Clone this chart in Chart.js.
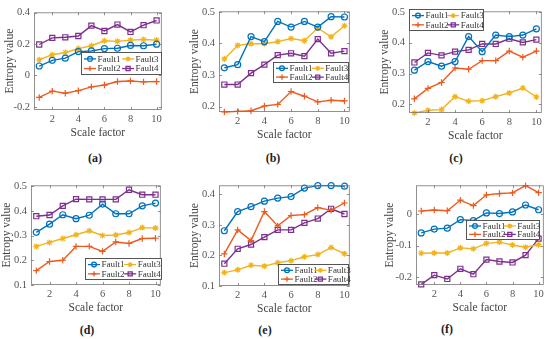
<!DOCTYPE html>
<html>
<head>
<meta charset="utf-8">
<script src="https://cdn.jsdelivr.net/npm/chart.js@4/dist/chart.umd.min.js"></script>
<style>
  body { margin: 0; background: #fff; width: 550px; height: 339px; position: relative; overflow: hidden; }
  canvas { position: absolute; }
  .cap { position: absolute; font: bold 12px 'Liberation Serif', serif; color: #222; transform: translateX(-50%); }
</style>
</head>
<body>
<script>
const scaleFactor = [1, 2, 3, 4, 5, 6, 7, 8, 9, 10];
const faultNames = ['Fault1', 'Fault2', 'Fault3', 'Fault4'];
const xTicks = [2, 4, 6, 8, 10];

// (a)
const a1 = [0.06, 0.096, 0.11, 0.152, 0.156, 0.171, 0.173, 0.191, 0.189, 0.199];
const a2 = [-0.14, -0.1, -0.113, -0.097, -0.073, -0.061, -0.039, -0.035, -0.041, -0.039];
const a3 = [0.1, 0.132, 0.146, 0.171, 0.189, 0.221, 0.217, 0.225, 0.229, 0.225];
const a4 = [0.197, 0.239, 0.243, 0.251, 0.317, 0.283, 0.324, 0.277, 0.32, 0.35];
const aTicks = [-0.2, 0, 0.2, 0.4];

// (b)
const b1 = [0.323, 0.333, 0.422, 0.406, 0.47, 0.452, 0.47, 0.452, 0.485, 0.484];
const b2 = [0.183, 0.185, 0.187, 0.202, 0.207, 0.248, 0.233, 0.215, 0.22, 0.218];
const b3 = [0.351, 0.394, 0.399, 0.399, 0.406, 0.416, 0.409, 0.449, 0.421, 0.456];
const b4 = [0.27, 0.27, 0.306, 0.333, 0.363, 0.369, 0.36, 0.414, 0.369, 0.376];
const bTicks = [0.2, 0.3, 0.4, 0.5];

// (c)
const c1 = [0.311, 0.339, 0.324, 0.339, 0.42, 0.371, 0.425, 0.42, 0.425, 0.445];
const c2 = [0.218, 0.252, 0.271, 0.318, 0.314, 0.342, 0.342, 0.373, 0.353, 0.373];
const c3 = [0.172, 0.181, 0.183, 0.225, 0.21, 0.212, 0.225, 0.237, 0.253, 0.224];
const c4 = [0.336, 0.367, 0.359, 0.371, 0.377, 0.396, 0.396, 0.413, 0.401, 0.41];
const cTicks = [0.2, 0.3, 0.4, 0.5];

// (d)
const d1 = [0.313, 0.346, 0.384, 0.368, 0.382, 0.427, 0.388, 0.388, 0.42, 0.431];
const d2 = [0.158, 0.195, 0.2, 0.256, 0.256, 0.236, 0.274, 0.268, 0.288, 0.289];
const d3 = [0.256, 0.272, 0.288, 0.303, 0.319, 0.3, 0.302, 0.312, 0.332, 0.33];
const d4 = [0.378, 0.383, 0.42, 0.447, 0.446, 0.446, 0.446, 0.485, 0.465, 0.465];
const dTicks = [0.1, 0.2, 0.3, 0.4, 0.5];

// (e)
const e1 = [0.281, 0.344, 0.36, 0.378, 0.388, 0.393, 0.421, 0.429, 0.429, 0.427];
const e2 = [0.205, 0.284, 0.249, 0.344, 0.297, 0.331, 0.334, 0.357, 0.348, 0.372];
const e3 = [0.144, 0.153, 0.168, 0.165, 0.176, 0.183, 0.196, 0.203, 0.226, 0.206];
const e4 = [0.173, 0.222, 0.236, 0.26, 0.284, 0.284, 0.307, 0.321, 0.353, 0.336];
const eTicks = [0.1, 0.2, 0.3, 0.4];

// (f)
const f1 = [-0.06, -0.048, -0.045, -0.018, -0.021, 0.003, 0.001, 0.006, 0.028, 0.013];
const f2 = [0.009, 0.012, 0.01, 0.043, 0.026, 0.06, 0.064, 0.066, 0.089, 0.067];
const f3 = [-0.124, -0.123, -0.123, -0.107, -0.11, -0.093, -0.089, -0.098, -0.105, -0.097];
const f4 = [-0.222, -0.193, -0.205, -0.173, -0.19, -0.144, -0.15, -0.153, -0.13, -0.078];
const fTicks = [-0.2, -0.1, 0];

const colors = ['#0072BD', '#EE5A1E', '#F2B31C', '#7E2F8E'];
const markers = ['circle', 'cross', 'star', 'rect'];
const markerSize = [3, 3.2, 3, 3.6];
const serif = "'Liberation Serif', serif";

// plot box, y-title centre, y range and legend box are in page pixels
const panels = [
  { cap: '(a)', capX: 95, capY: 151, series: [a1, a2, a3, a4], ticks: aTicks, plot: [34, 8, 163, 110], titleX: 10, y: [-0.22, 0.402], legend: [81, 52, 81, 23] },
  { cap: '(b)', capX: 273, capY: 151, series: [b1, b2, b3, b4], ticks: bTicks, plot: [219, 7, 351, 112], titleX: 195, y: [0.183, 0.502], legend: [273, 62, 76, 21] },
  { cap: '(c)', capX: 456, capY: 151, series: [c1, c2, c3, c4], ticks: cTicks, plot: [409, 7, 543, 113], titleX: 385, y: [0.172, 0.502], legend: [409, 9, 75, 22] },
  { cap: '(d)', capX: 87, capY: 323, series: [d1, d2, d3, d4], ticks: dTicks, plot: [31, 181, 162, 285], titleX: 7, y: [0.1, 0.503], legend: [85, 258, 77, 22] },
  { cap: '(e)', capX: 265, capY: 323, series: [e1, e2, e3, e4], ticks: eTicks, plot: [219, 181, 351, 286], titleX: 195, y: [0.1, 0.43], legend: [278, 264, 71, 21] },
  { cap: '(f)', capX: 447, capY: 322, series: [f1, f2, f3, f4], ticks: fTicks, plot: [416, 181, 545, 285], titleX: 390, y: [-0.224, 0.09], legend: [466, 220, 74, 20] },
];

// axes box, inward ticks and the boxed two-column legend
const frame = {
  id: 'frame',
  afterDatasetsDraw(chart, args, opts) {
    const { ctx, chartArea: a, scales } = chart;
    ctx.save();
    ctx.strokeStyle = '#777';
    ctx.lineWidth = 0.8;
    ctx.strokeRect(a.left + 0.5, a.top + 0.5, a.width - 1, a.height - 1);
    ctx.beginPath();
    scales.x.ticks.forEach((t) => {
      const px = Math.round(scales.x.getPixelForValue(t.value)) + 0.5;
      ctx.moveTo(px, a.bottom); ctx.lineTo(px, a.bottom - 3);
      ctx.moveTo(px, a.top); ctx.lineTo(px, a.top + 3);
    });
    scales.y.ticks.forEach((t) => {
      const py = Math.round(scales.y.getPixelForValue(t.value)) + 0.5;
      ctx.moveTo(a.left, py); ctx.lineTo(a.left + 3, py);
      ctx.moveTo(a.right, py); ctx.lineTo(a.right - 3, py);
    });
    ctx.stroke();

    const [lx, ly, lw, lh] = opts.box;
    ctx.fillStyle = '#fff';
    ctx.fillRect(lx, ly, lw, lh);
    ctx.strokeStyle = '#444';
    ctx.lineWidth = 0.9;
    ctx.strokeRect(lx + 0.5, ly + 0.5, lw - 1, lh - 1);
    ctx.font = `9px ${serif}`;
    ctx.textBaseline = 'middle';
    [0, 2, 1, 3].forEach((idx, k) => {
      const col = k % 2;
      const row = Math.floor(k / 2);
      const x0 = lx + 3 + col * lw * 0.47;
      const yc = ly + lh * (row === 0 ? 0.3 : 0.72);
      ctx.strokeStyle = colors[idx];
      ctx.lineWidth = 1.3;
      ctx.beginPath();
      ctx.moveTo(x0, yc); ctx.lineTo(x0 + 12, yc);
      ctx.stroke();
      ctx.fillStyle = 'rgba(0,0,0,0)';
      Chart.helpers.drawPoint(ctx, { pointStyle: markers[idx], radius: markerSize[idx] * 0.8, rotation: 0, borderWidth: 1.1 }, x0 + 6, yc);
      ctx.fillStyle = '#333';
      ctx.fillText(faultNames[idx], x0 + 13.5, yc + 0.5);
    });
    ctx.restore();
  },
};

panels.forEach((p) => {
  const [pl, pt, pr, pb] = p.plot;
  const left = p.titleX - 7;
  const top = pt - 6;
  const width = pr + 4 - left;
  const height = pb + 30 - top;
  const canvas = document.createElement('canvas');
  canvas.width = width;
  canvas.height = height;
  canvas.style.left = left + 'px';
  canvas.style.top = top + 'px';
  canvas.style.width = width + 'px';
  canvas.style.height = height + 'px';
  document.body.appendChild(canvas);

  const cap = document.createElement('div');
  cap.className = 'cap';
  cap.textContent = p.cap;
  cap.style.left = p.capX + 'px';
  cap.style.top = p.capY + 'px';
  document.body.appendChild(cap);

  const datasets = p.series.map((vals, i) => ({
    label: faultNames[i],
    data: scaleFactor.map((x, k) => ({ x, y: vals[k] })),
    borderColor: colors[i],
    backgroundColor: 'rgba(0,0,0,0)',
    borderWidth: 1.4,
    pointStyle: markers[i],
    pointRadius: markerSize[i],
    pointBorderWidth: 1.2,
    pointBorderColor: colors[i],
    pointBackgroundColor: 'rgba(0,0,0,0)',
    clip: false,
  }));

  new Chart(canvas, {
    type: 'line',
    data: { datasets },
    options: {
      responsive: false,
      animation: false,
      devicePixelRatio: 1,
      layout: { padding: { left: 0, top: 6, right: 4, bottom: 0 } },
      plugins: {
        legend: { display: false },
        tooltip: { enabled: false },
        frame: { box: [p.legend[0] - left, p.legend[1] - top, p.legend[2], p.legend[3]] },
      },
      scales: {
        x: {
          type: 'linear',
          min: 0.6,
          max: 10.4,
          grid: { display: false, drawTicks: false },
          border: { display: false },
          afterBuildTicks: (s) => { s.ticks = xTicks.map((v) => ({ value: v })); },
          afterFit: (s) => { s.height = 30; },
          ticks: { padding: 3, color: '#555', font: { family: serif, size: 10.5 }, maxRotation: 0 },
          title: { display: true, text: 'Scale factor', color: '#444', padding: 0, font: { family: serif, size: 11.5 } },
        },
        y: {
          min: p.y[0],
          max: p.y[1],
          grid: { display: false, drawTicks: false },
          border: { display: false },
          afterBuildTicks: (s) => { s.ticks = p.ticks.map((v) => ({ value: v })); },
          afterFit: (s) => { s.width = pl - left; },
          ticks: { padding: 4, color: '#555', font: { family: serif, size: 10.5 }, callback: (v) => String(v) },
          title: { display: true, text: 'Entropy value', color: '#444', padding: 0, font: { family: serif, size: 11.5 } },
        },
      },
    },
    plugins: [frame],
  });
});
</script>
</body>
</html>
